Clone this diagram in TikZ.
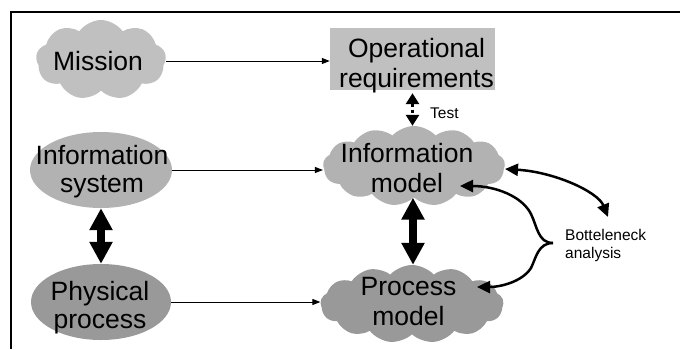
\documentclass[tikz,border=0pt]{standalone}
\usepackage{fontspec}
\setmainfont{Liberation Sans}
\usetikzlibrary{shapes.symbols,shapes.geometric,arrows.meta}
\definecolor{gA}{HTML}{C0C0C0}
\definecolor{gB}{HTML}{B2B2B2}
\definecolor{gC}{HTML}{999999}
\begin{document}
\begin{tikzpicture}[x=1pt,y=-1pt,
  big/.style={font=\fontsize{26.5}{30}\selectfont, align=center, inner sep=0pt},
  bigE/.style={font=\fontsize{26.5}{28}\selectfont, align=center, inner sep=0pt},
  small/.style={font=\fontsize{15.5}{18}\selectfont, align=left, inner sep=0pt},
  cloudshape/.style={cloud, cloud puffs=13, cloud puff arc=95, cloud ignores aspect, draw=none, inner sep=0pt},
  ellshape/.style={ellipse, draw=none, inner sep=0pt},
  thinarrow/.style={line width=1pt, -{Triangle[length=8pt,width=6pt]}},
  thickarrow/.style={line width=8pt, {Triangle[length=22pt,width=22pt]}-{Triangle[length=22pt,width=22pt]}},
  testarrow/.style={line width=3pt, dash pattern=on 3pt off 3pt, {Triangle[length=11pt,width=13pt]}-{Triangle[length=11pt,width=13pt]}},
  curvearrow/.style={line width=2.5pt, -{Triangle[length=13pt,width=12pt]}},
  curvearrow2/.style={line width=2.5pt, {Triangle[length=13pt,width=12pt]}-{Triangle[length=13pt,width=12pt]}}
]
\useasboundingbox (0,0) rectangle (680,349);
% frame
\draw[line width=1.5pt] (680,12) -- (11,12) -- (11,349);

% shapes
\node[cloudshape, cloud puffs=9, cloud puff arc=110, fill=gA, minimum width=130pt, minimum height=80pt] (m) at (101,60) {};
\node[rectangle, fill=gA, inner sep=0pt, minimum width=165pt, minimum height=62pt] (or) at (412.5,59) {};
\node[ellshape, fill=gB, minimum width=142pt, minimum height=76pt] (is) at (101,170) {};
\node[ellshape, fill=gC, minimum width=140pt, minimum height=76pt] (pp) at (101,302) {};
\node[cloudshape, fill=gB, minimum width=182pt, minimum height=80pt] (im) at (414,166) {};
\node[cloudshape, fill=gC, minimum width=183pt, minimum height=78pt] (pm) at (412,304) {};

% texts
\node[big] (mt) at (98,64) {\strut Mission};
\node[big] (ort) at (416.5,66) {\strut Operational\\\strut requirements};
\node[bigE] (ist) at (102,172.9) {\strut Information\\\strut system};
\node[bigE] (ppt) at (100,308.4) {\strut Physical\\\strut process};
\node[big] (imt) at (407,171.5) {\strut Information\\\strut model};
\node[big] (pmt) at (408.5,304) {\strut Process\\\strut model};
\node[small, anchor=base west] (tt) at (430,118) {Test};
\node[small, anchor=north west] (bn) at (565,227.4) {\strut Botteleneck\\\strut analysis};

% connectors
\draw[thinarrow] (m.east |- 0,61) -- (or.west |- 0,61);
\draw[thinarrow] (is.east) -- (is.east -| im.west);
\draw[thinarrow] (pp.east) -- (pp.east -| pm.west);
\draw[testarrow, shorten <=3pt] (or.south) -- (or.south |- im.north);
\draw[thickarrow] (is.south) -- (pp.north);
\draw[thickarrow] (im.south -| 413,0) -- (pm.north -| 413,0);

\coordinate (bt) at (553,243);
\coordinate (ua) at (460,186);
\coordinate (la) at (477,287);
\coordinate (bn1) at (608,217);
\coordinate (im1) at (505,169);
\draw[curvearrow2] (im1) .. controls (555,172) and (598,192) .. (bn1);
\draw[curvearrow] (bt) .. controls (538,243) and (537,226) .. (531,214) .. controls (522,196) and (495,186) .. (ua);
\draw[curvearrow] (bt) .. controls (538,243) and (536,258) .. (531,268) .. controls (522,282) and (500,287) .. (la);
\end{tikzpicture}
\end{document}
